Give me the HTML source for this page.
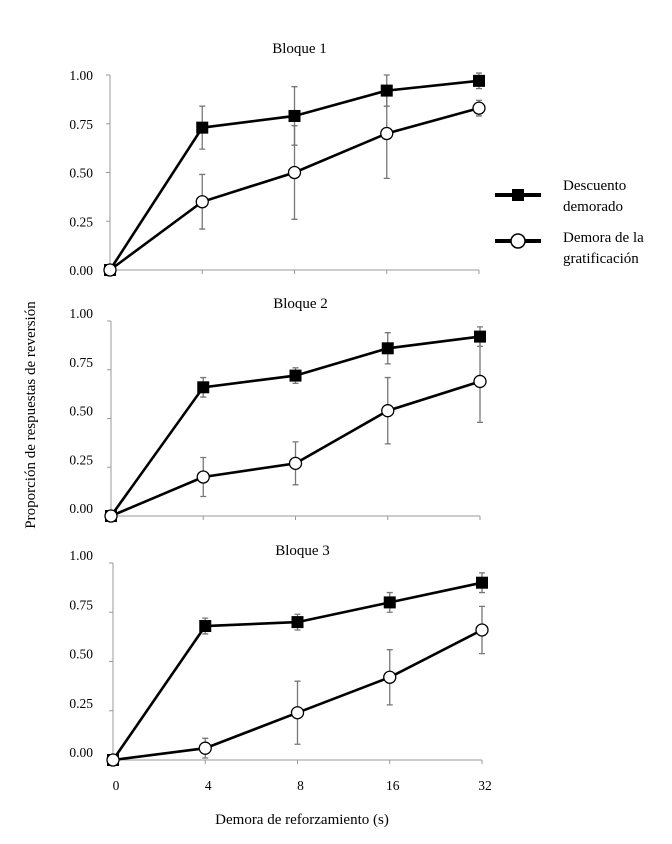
<!DOCTYPE html>
<html><head><meta charset="utf-8"><style>
body{margin:0;background:#fff}
svg{display:block;font-family:"Liberation Serif",serif}
</style></head><body>
<svg id="c" width="672" height="844" viewBox="0 0 672 844">
<text x="302" y="824" font-size="15" text-anchor="middle">Demora de reforzamiento (s)</text>
<text transform="translate(35,415) rotate(-90)" font-size="15" text-anchor="middle">Proporción de respuestas de reversión</text>
<g>
<line x1="495" y1="195" x2="541" y2="195" stroke="#000" stroke-width="4"/>
<rect x="512" y="189" width="12" height="12" fill="#000"/>
<text x="563" y="190" font-size="15">Descuento</text>
<text x="563" y="211" font-size="15">demorado</text>
<line x1="495" y1="241" x2="541" y2="241" stroke="#000" stroke-width="4"/>
<circle cx="518" cy="241" r="7" fill="#fff" stroke="#000" stroke-width="1.5"/>
<text x="563" y="242" font-size="15">Demora de la</text>
<text x="563" y="263" font-size="15">gratificación</text>
</g>
</svg>
<script>
const categories=["0","4","8","16","32"];
const yTicks=[0,0.25,0.5,0.75,1];
const yTickLabels=["0.00","0.25","0.50","0.75","1.00"];
const titles=["Bloque 1","Bloque 2","Bloque 3"];
const filledB1=[0,0.73,0.79,0.92,0.97];
const filledErrB1=[0,0.11,0.15,0.08,0.04];
const openB1=[0,0.35,0.50,0.70,0.83];
const openErrB1=[0,0.14,0.24,0.23,0.04];
const filledB2=[0,0.66,0.72,0.86,0.92];
const filledErrB2=[0,0.05,0.04,0.08,0.05];
const openB2=[0,0.20,0.27,0.54,0.69];
const openErrB2=[0,0.10,0.11,0.17,0.21];
const filledB3=[0,0.68,0.70,0.80,0.90];
const filledErrB3=[0,0.04,0.04,0.05,0.05];
const openB3=[0,0.06,0.24,0.42,0.66];
const openErrB3=[0,0.05,0.16,0.14,0.12];
const panels=[
 {x0:110,x1:479,top:75,bottom:270,lab:0,ty:53,f:filledB1,fe:filledErrB1,o:openB1,oe:openErrB1,xl:false},
 {x0:111,x1:480,top:321,bottom:516,lab:8,ty:308,f:filledB2,fe:filledErrB2,o:openB2,oe:openErrB2,xl:false},
 {x0:113,x1:482,top:563,bottom:760,lab:8,ty:555,f:filledB3,fe:filledErrB3,o:openB3,oe:openErrB3,xl:true}
];
const NS="http://www.w3.org/2000/svg";
const svg=document.getElementById('c');
function mk(t,a,p){const e=document.createElementNS(NS,t);for(const k in a)e.setAttribute(k,a[k]);(p||svg).appendChild(e);return e;}
panels.forEach((P,pi)=>{
 const g=mk('g',{});
 
 
 const xs=i=>P.x0+(P.x1-P.x0)*i/(categories.length-1);
 const ys=v=>P.bottom-(P.bottom-P.top)*v;
 const t=mk('text',{x:(P.x0+P.x1)/2+5,y:P.ty,'font-size':15,'text-anchor':'middle'},g);
 t.textContent=titles[pi];
 
 
 const ya=mk('line',{x1:P.x0,y1:P.top,x2:P.x0,y2:P.bottom,stroke:'#999','stroke-width':1},g);
 
 
 const xa=mk('line',{x1:P.x0,y1:P.bottom,x2:P.x1,y2:P.bottom,stroke:'#999','stroke-width':1},g);
 
 
 yTicks.forEach((v,i)=>{
  mk('line',{x1:P.x0-4,y1:ys(v),x2:P.x0,y2:ys(v),stroke:'#999'},g);
  const l=mk('text',{x:93,y:ys(v)-P.lab+5,'font-size':13.5,'text-anchor':'end'},g);
  l.textContent=yTickLabels[i];
  
  
 });
 categories.forEach((c,i)=>{
  mk('line',{x1:xs(i),y1:P.bottom,x2:xs(i),y2:P.bottom+4,stroke:'#999'},g);
  if(P.xl){const l=mk('text',{x:xs(i)+3,y:P.bottom+30,'font-size':13.5,'text-anchor':'middle'},g);
   l.textContent=c;
   
   }
 });
 [[P.o,P.oe,'open'],[P.f,P.fe,'filled']].forEach(([vals,errs,kind])=>{
  vals.forEach((v,i)=>{ if(errs[i]>0){
   const e=mk('path',{d:`M${xs(i)},${ys(v-errs[i])}V${ys(v+errs[i])}M${xs(i)-3},${ys(v-errs[i])}h6M${xs(i)-3},${ys(v+errs[i])}h6`,stroke:'#777','stroke-width':1.3,fill:'none'},g);
   
   }});
 });
 [[P.o,'open'],[P.f,'filled']].forEach(([vals,kind])=>{
  const ln=mk('polyline',{points:vals.map((v,i)=>xs(i)+','+ys(v)).join(' '),fill:'none',stroke:'#000','stroke-width':2.6},g);
  
  
 });
 P.f.forEach((v,i)=>{ if(i!==0) return; const r=mk('rect',{x:xs(i)-6,y:ys(v)-6,width:12,height:12,fill:'#000'},g);
  
  });
 P.o.forEach((v,i)=>{const c=mk('circle',{cx:xs(i),cy:ys(v),r:6,fill:'#fff',stroke:'#000','stroke-width':1.3},g);
  
  });
 P.f.forEach((v,i)=>{ if(i===0) return; const r=mk('rect',{x:xs(i)-6,y:ys(v)-6,width:12,height:12,fill:'#000'},g);
  
  });
});
</script>
</body></html>
